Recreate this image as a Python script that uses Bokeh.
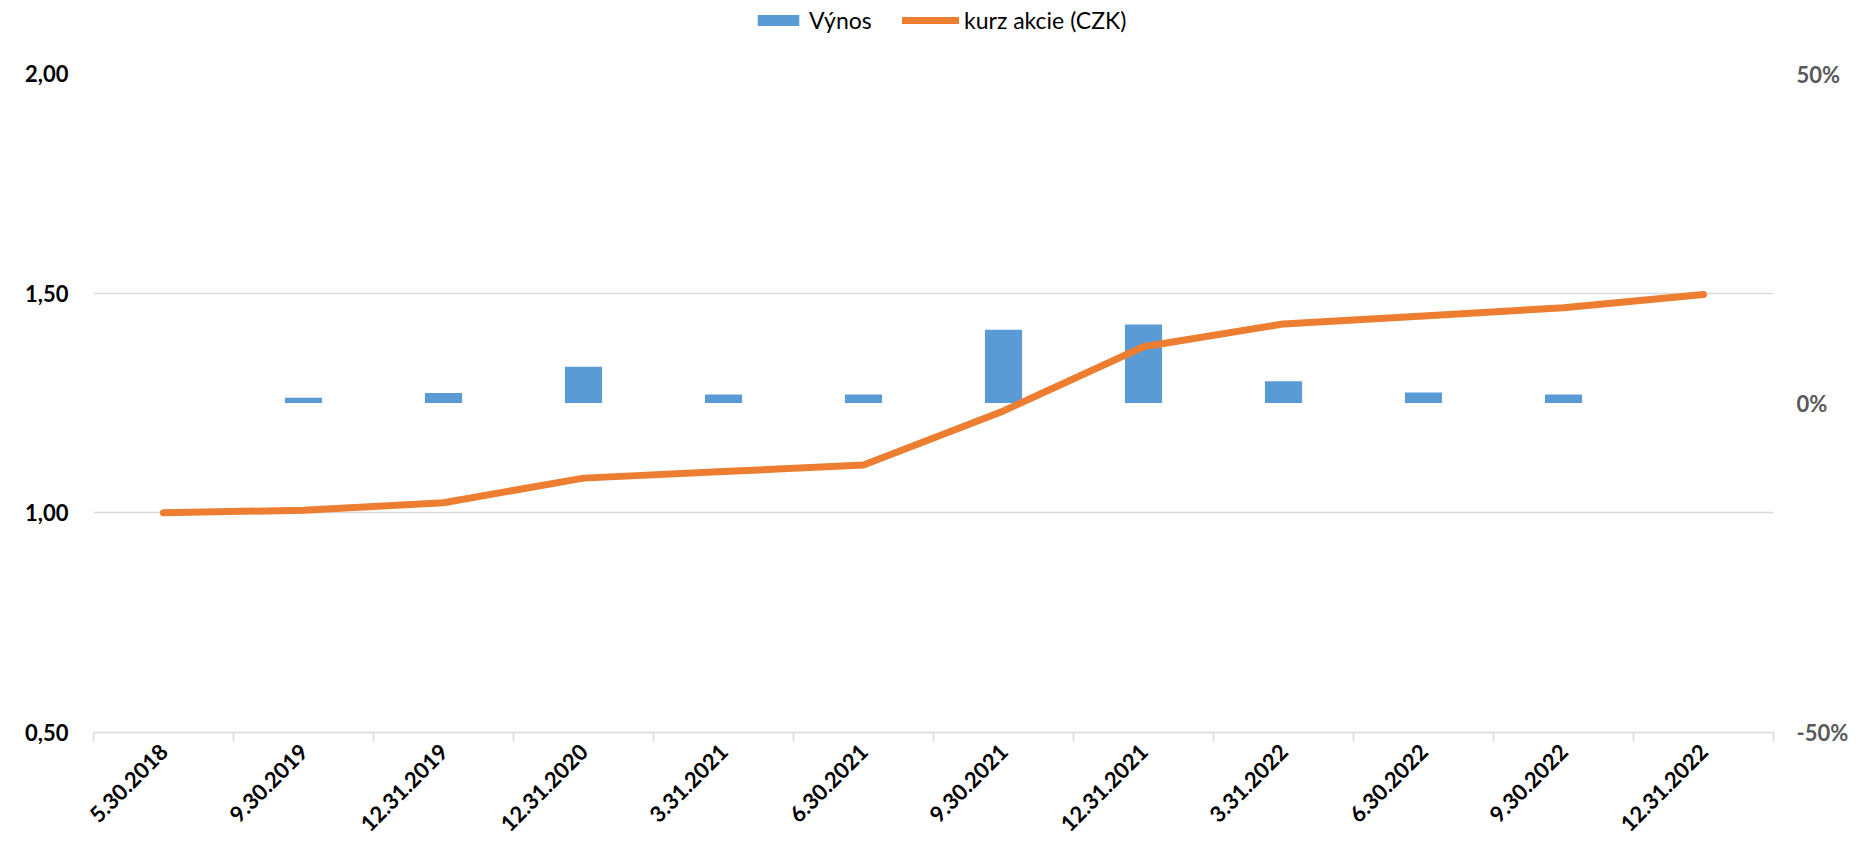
import numpy as np
from bokeh.plotting import figure
from bokeh.layouts import column
from bokeh.models import (Range1d, LinearAxis, FixedTicker, CustomJSTickFormatter,
                          NumeralTickFormatter, Legend, LegendItem, ColumnDataSource)
from bokeh.embed import file_html
from bokeh.resources import INLINE

categories = ["5.30.2018", "9.30.2019", "12.31.2019", "12.31.2020", "3.31.2021", "6.30.2021",
              "9.30.2021", "12.31.2021", "3.31.2022", "6.30.2022", "9.30.2022", "12.31.2022"]
vynos = [0.0, 0.008, 0.015, 0.055, 0.013, 0.013, 0.111, 0.119, 0.033, 0.016, 0.013, 0.0]
kurz = [1.00, 1.006, 1.023, 1.079, 1.094, 1.109, 1.232, 1.378, 1.430, 1.448, 1.467, 1.497]
left_ticks = [0.5, 1.0, 1.5, 2.0]
right_ticks = [-0.5, 0.0, 0.5]
series_names = ["Výnos", "kurz akcie (CZK)"]

FONT = "Lato"
BLUE = "#5B9BD5"
ORANGE = "#ED7D31"
GRID = "#D9D9D9"
W = 1855
LEG_H = 60

n = len(categories)
xpos = np.arange(n) + 0.5
src = ColumnDataSource(dict(x=xpos, vynos=vynos, kurz=kurz, cat=categories))

p = figure(width=W, height=782, output_backend="svg", toolbar_location=None,
           x_range=Range1d(0, n), y_range=Range1d(0.5, 2.0),
           min_border_left=93, min_border_right=82, min_border_top=13, min_border_bottom=108)
p.outline_line_color = None
p.extra_y_ranges = {"pct": Range1d(-0.5, 0.5)}

p.vbar(x="x", top="vynos", bottom=0, width=0.265, source=src, y_range_name="pct",
       fill_color=BLUE, line_color=None)
p.line(x="x", y="kurz", source=src, line_color=ORANGE, line_width=7,
       line_cap="round", line_join="round")

# x axis
xa = p.xaxis[0]
xa.ticker = FixedTicker(ticks=list(xpos), minor_ticks=list(range(n + 1)))
xa.major_label_overrides = {float(x): c for x, c in zip(xpos, categories)}
xa.major_tick_line_color = None
xa.major_tick_out = 0
xa.major_tick_in = 0
xa.minor_tick_line_color = GRID
xa.minor_tick_line_width = 1.5
xa.minor_tick_out = 9
xa.minor_tick_in = 0
xa.axis_line_color = GRID
xa.axis_line_width = 1.5
xa.major_label_orientation = np.pi / 4
xa.major_label_text_font = FONT
xa.major_label_text_font_style = "bold"
xa.major_label_text_font_size = "22px"
xa.major_label_text_color = "#000000"
xa.major_label_standoff = 6

# left axis
ya = p.yaxis[0]
ya.ticker = FixedTicker(ticks=left_ticks)
ya.formatter = CustomJSTickFormatter(code="return tick.toFixed(2).replace('.', ',');")
ya.axis_line_color = None
ya.major_tick_line_color = None
ya.major_tick_out = 0
ya.minor_tick_line_color = None
ya.major_label_text_font = FONT
ya.major_label_text_font_style = "bold"
ya.major_label_text_font_size = "22px"
ya.major_label_text_color = "#000000"
ya.major_label_standoff = 25

# right axis
ra = LinearAxis(y_range_name="pct", ticker=FixedTicker(ticks=right_ticks),
                formatter=NumeralTickFormatter(format="0%"))
ra.axis_line_color = None
ra.major_tick_line_color = None
ra.major_tick_out = 0
ra.minor_tick_line_color = None
ra.major_label_text_font = FONT
ra.major_label_text_font_style = "bold"
ra.major_label_text_font_size = "22px"
ra.major_label_text_color = "#595959"
ra.major_label_standoff = 23
p.add_layout(ra, "right")

p.xgrid.grid_line_color = None
p.ygrid.ticker = FixedTicker(ticks=left_ticks)
p.ygrid.grid_line_color = GRID
p.ygrid.grid_line_width = 1.5

# legend strip above the chart (hidden copies of the series supply the legend glyphs)
lf = figure(width=W, height=LEG_H, output_backend="svg", toolbar_location=None,
            x_axis_location=None, y_axis_location=None,
            x_range=Range1d(-3, -2), y_range=Range1d(-3, -2),
            min_border_left=0, min_border_right=0, min_border_top=0, min_border_bottom=0)
lf.grid.visible = False
lf.outline_line_color = None
lb = lf.vbar(x="x", top="vynos", bottom=0, width=0.265, source=src,
             fill_color=BLUE, line_color=None, visible=False)
ll = lf.line(x="x", y="kurz", source=src, line_color=ORANGE, line_width=7,
             line_cap="round", visible=False)


def make_legend(item, loc, gw, standoff):
    lg = Legend(items=[item], orientation="horizontal", location=loc)
    lg.label_text_font = FONT
    lg.label_text_font_size = "23px"
    lg.label_text_color = "#000000"
    lg.glyph_width = gw
    lg.glyph_height = 14
    lg.label_standoff = standoff
    lg.border_line_color = None
    lg.background_fill_alpha = 0
    lg.inactive_fill_alpha = 0
    lg.padding = 4
    lg.margin = 0
    return lg


lf.add_layout(make_legend(LegendItem(label=series_names[0], renderers=[lb]), (659, 26), 52, 5), "center")
lf.add_layout(make_legend(LegendItem(label=series_names[1], renderers=[ll]), (809, 26), 57, 5), "center")

open("out.html", "w").write(file_html(column(lf, p, spacing=0), INLINE))
